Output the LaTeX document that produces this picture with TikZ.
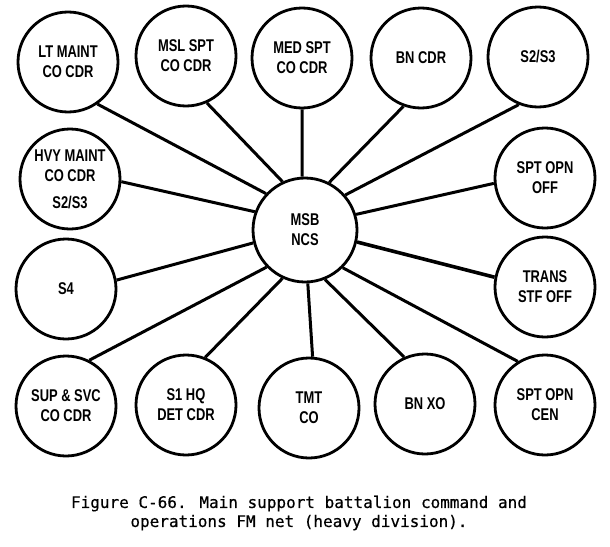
\documentclass[tikz,border=0pt]{standalone}
\usepackage{fontspec}
\newfontfamily\lblfont[FakeStretch=0.76]{Liberation Sans}
\newfontfamily\capfont[FakeBold=0.5]{DejaVu Sans Mono}

\begin{document}
\begin{tikzpicture}[x=1pt, y=-1pt,
	nstyle/.style={circle, draw=black, line width=2.8pt, minimum size=100pt,
	inner sep=0pt, align=center, font=\lblfont\bfseries\fontsize{17}{20}\selectfont},
	lstyle/.style={line width=3pt}
	]
	\useasboundingbox (0,0) rectangle (610,546);
	
	\node[nstyle, minimum size=104pt] (msb) at (305,230) {MSB\\NCS};
	
	\node[nstyle] (lt) at (68,62) {LT MAINT\\CO CDR};
	\node[nstyle] (msl) at (186,56) {MSL SPT\\CO CDR};
	\node[nstyle] (med) at (302,58) {MED SPT\\CO CDR};
	\node[nstyle] (bncdr) at (421,58) {BN CDR};
	\node[nstyle] (sto) at (538,57) {S2/S3};
	\node[nstyle] (hvy) at (70,179) {HVY MAINT\\CO CDR\\[7pt]S2/S3};
	\node[nstyle] (sptoff) at (545,178) {SPT OPN\\OFF};
	\node[nstyle] (sfour) at (66,289) {S4};
	\node[nstyle] (trans) at (545,287) {TRANS\\STF OFF};
	\node[nstyle] (sup) at (66,406) {SUP \& SVC\\CO CDR};
	\node[nstyle] (sone) at (186,405) {S1 HQ\\DET CDR};
	\node[nstyle] (tmt) at (309,408) {TMT\\CO};
	\node[nstyle] (bnxo) at (425,404) {BN XO};
	\node[nstyle] (sptcen) at (545,405) {SPT OPN\\CEN};
	
	\draw[lstyle] (msb.137) to (lt.-55);
	\draw[lstyle] (msb.115) to (msl.-66);
	\draw[lstyle] (msb.93) to (med.-90);
	\draw[lstyle] (msb.63) to (bncdr.-110);
	\draw[lstyle] (msb.41) to (sto.-112);
	\draw[lstyle] (msb.160) to (hvy.-3);
	\draw[lstyle] (msb.17) to (sptoff.186);
	\draw[lstyle] (msb.194) to (sfour.10);
	\draw[lstyle, line width=3.6pt] (msb.-13) to (trans.169);
	\draw[lstyle] (msb.-136) to (sup.63);
	\draw[lstyle] (msb.-115) to (sone.68);
	\draw[lstyle] (msb.-87) to (tmt.86);
	\draw[lstyle] (msb.-68) to (bnxo.114);
	\draw[lstyle] (msb.-45) to (sptcen.122);
	
	\node[align=center, font=\capfont\fontsize{16}{19}\selectfont] (cap) at (299,513)
	{Figure C-66. Main support battalion command and\\operations FM net (heavy division).};
\end{tikzpicture}
\end{document}
